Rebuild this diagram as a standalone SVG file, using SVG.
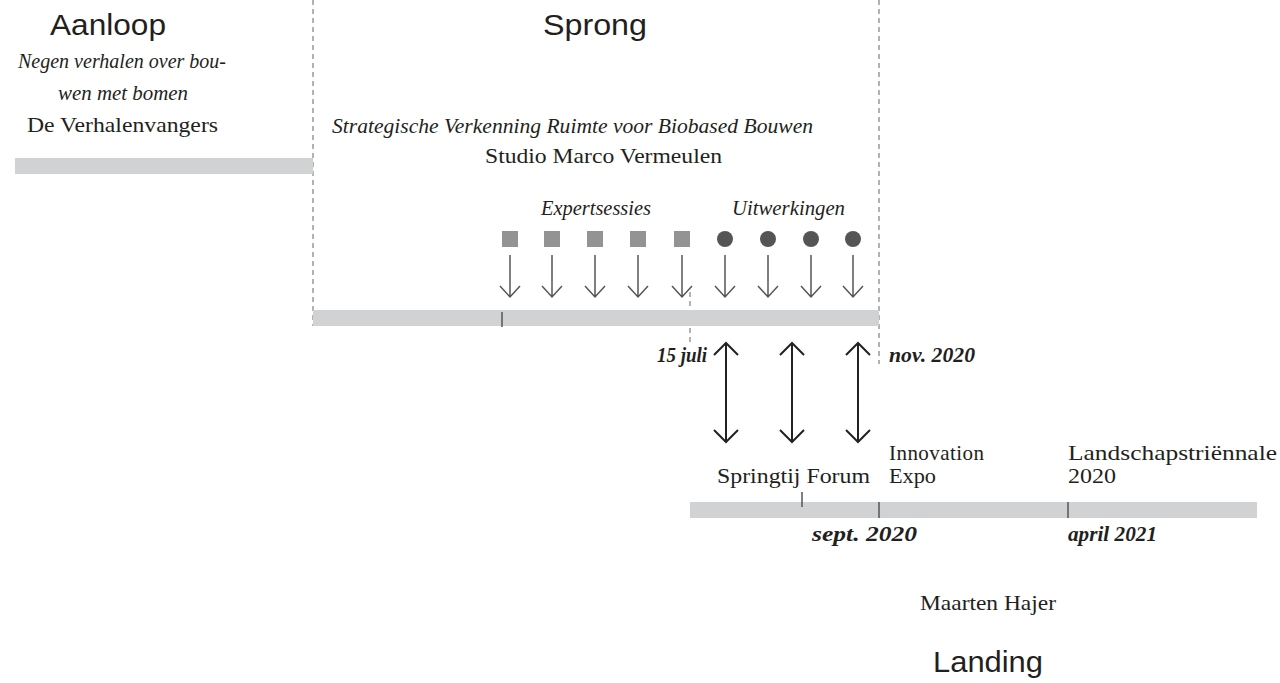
<svg xmlns="http://www.w3.org/2000/svg" width="1280" height="683" viewBox="0 0 1280 683">
<style>
.title{font-family:"Liberation Sans",Arial,sans-serif;font-size:29px;fill:#231f20}
.serif{font-family:"Liberation Serif","Times New Roman",serif;font-size:21px;fill:#231f20}
.it{font-style:italic}
.bi{font-style:italic;font-weight:bold}
.bar{fill:#d1d2d4}
.dash{stroke:#8a8a8a;stroke-width:1.3;stroke-dasharray:5 4;fill:none}
.tick{stroke:#555;stroke-width:1.5}
.arr{stroke:#555;stroke-width:1.5;fill:none}
.darr{stroke:#222;stroke-width:2;fill:none}
.sq{fill:#939393}
.dot{fill:#555}
</style>
<defs>
<g id="down"><path class="arr" d="M0 0V42M-10 31L0 42L10 31"/></g>
<g id="both"><path class="darr" d="M0 0V99M-12 12L0 0L12 12M-12 87L0 99L12 87"/></g>
</defs>
<g id="guides">
<line class="dash" x1="313" y1="0" x2="313" y2="326"/>
<line class="dash" x1="879" y1="0" x2="879" y2="364"/>
<line class="dash" x1="690" y1="292" x2="690" y2="342"/>
</g>
<g id="aanloop">
<text class="title" x="50" y="35" textLength="116" lengthAdjust="spacingAndGlyphs">Aanloop</text>
<text class="serif it" x="18" y="68" textLength="208" lengthAdjust="spacingAndGlyphs">Negen verhalen over bou-</text>
<text class="serif it" x="58" y="100" textLength="130" lengthAdjust="spacingAndGlyphs">wen met bomen</text>
<text class="serif" x="27" y="132" textLength="191" lengthAdjust="spacingAndGlyphs">De Verhalenvangers</text>
<rect class="bar" x="15" y="158" width="298" height="16"/>
</g>
<g id="sprong">
<text class="title" x="543" y="35" textLength="104" lengthAdjust="spacingAndGlyphs">Sprong</text>
<text class="serif it" x="332" y="133" textLength="481" lengthAdjust="spacingAndGlyphs">Strategische Verkenning Ruimte voor Biobased Bouwen</text>
<text class="serif" x="485" y="163" textLength="237" lengthAdjust="spacingAndGlyphs">Studio Marco Vermeulen</text>
<rect class="bar" x="313" y="310" width="566" height="16"/>
<line class="tick" x1="502" y1="312" x2="502" y2="327"/>
</g>
<g id="expertsessies">
<text class="serif it" x="541" y="215" textLength="110" lengthAdjust="spacingAndGlyphs">Expertsessies</text>
<rect class="sq" x="502" y="231" width="16" height="16"/>
<rect class="sq" x="544" y="231" width="16" height="16"/>
<rect class="sq" x="587" y="231" width="16" height="16"/>
<rect class="sq" x="630" y="231" width="16" height="16"/>
<rect class="sq" x="674" y="231" width="16" height="16"/>
</g>
<g id="uitwerkingen">
<text class="serif it" x="732" y="215" textLength="113" lengthAdjust="spacingAndGlyphs">Uitwerkingen</text>
<circle class="dot" cx="725" cy="239" r="8"/>
<circle class="dot" cx="768" cy="239" r="8"/>
<circle class="dot" cx="811" cy="239" r="8"/>
<circle class="dot" cx="853" cy="239" r="8"/>
</g>
<g id="connectors">
<use href="#down" x="510" y="255"/>
<use href="#down" x="552" y="255"/>
<use href="#down" x="595" y="255"/>
<use href="#down" x="638" y="255"/>
<use href="#down" x="682" y="255"/>
<use href="#down" x="725" y="255"/>
<use href="#down" x="768" y="255"/>
<use href="#down" x="811" y="255"/>
<use href="#down" x="853" y="255"/>
<use href="#both" x="726" y="343"/>
<use href="#both" x="792" y="343"/>
<use href="#both" x="858" y="343"/>
</g>
<g id="dates">
<text class="serif bi" x="707" y="362" text-anchor="end" textLength="50" lengthAdjust="spacingAndGlyphs">15 juli</text>
<text class="serif bi" x="889" y="362" textLength="86" lengthAdjust="spacingAndGlyphs">nov. 2020</text>
<text class="serif bi" x="812" y="541" textLength="105" lengthAdjust="spacingAndGlyphs">sept. 2020</text>
<text class="serif bi" x="1068" y="541" textLength="89" lengthAdjust="spacingAndGlyphs">april 2021</text>
</g>
<g id="landing">
<text class="serif" x="717" y="483" textLength="153" lengthAdjust="spacingAndGlyphs">Springtij Forum</text>
<text class="serif" x="889" y="460" textLength="95" lengthAdjust="spacing">Innovation</text>
<text class="serif" x="889" y="483" textLength="47" lengthAdjust="spacingAndGlyphs">Expo</text>
<text class="serif" x="1068" y="460" textLength="209" lengthAdjust="spacingAndGlyphs">Landschapstriënnale</text>
<text class="serif" x="1068" y="483" textLength="48" lengthAdjust="spacingAndGlyphs">2020</text>
<rect class="bar" x="690" y="502" width="567" height="16"/>
<line class="tick" x1="802" y1="492" x2="802" y2="507"/>
<line class="tick" x1="879" y1="502" x2="879" y2="518"/>
<line class="tick" x1="1068" y1="502" x2="1068" y2="518"/>
<text class="serif" x="920" y="610" textLength="136" lengthAdjust="spacingAndGlyphs">Maarten Hajer</text>
<text class="title" x="933" y="672" textLength="110" lengthAdjust="spacingAndGlyphs">Landing</text>
</g>
</svg>
